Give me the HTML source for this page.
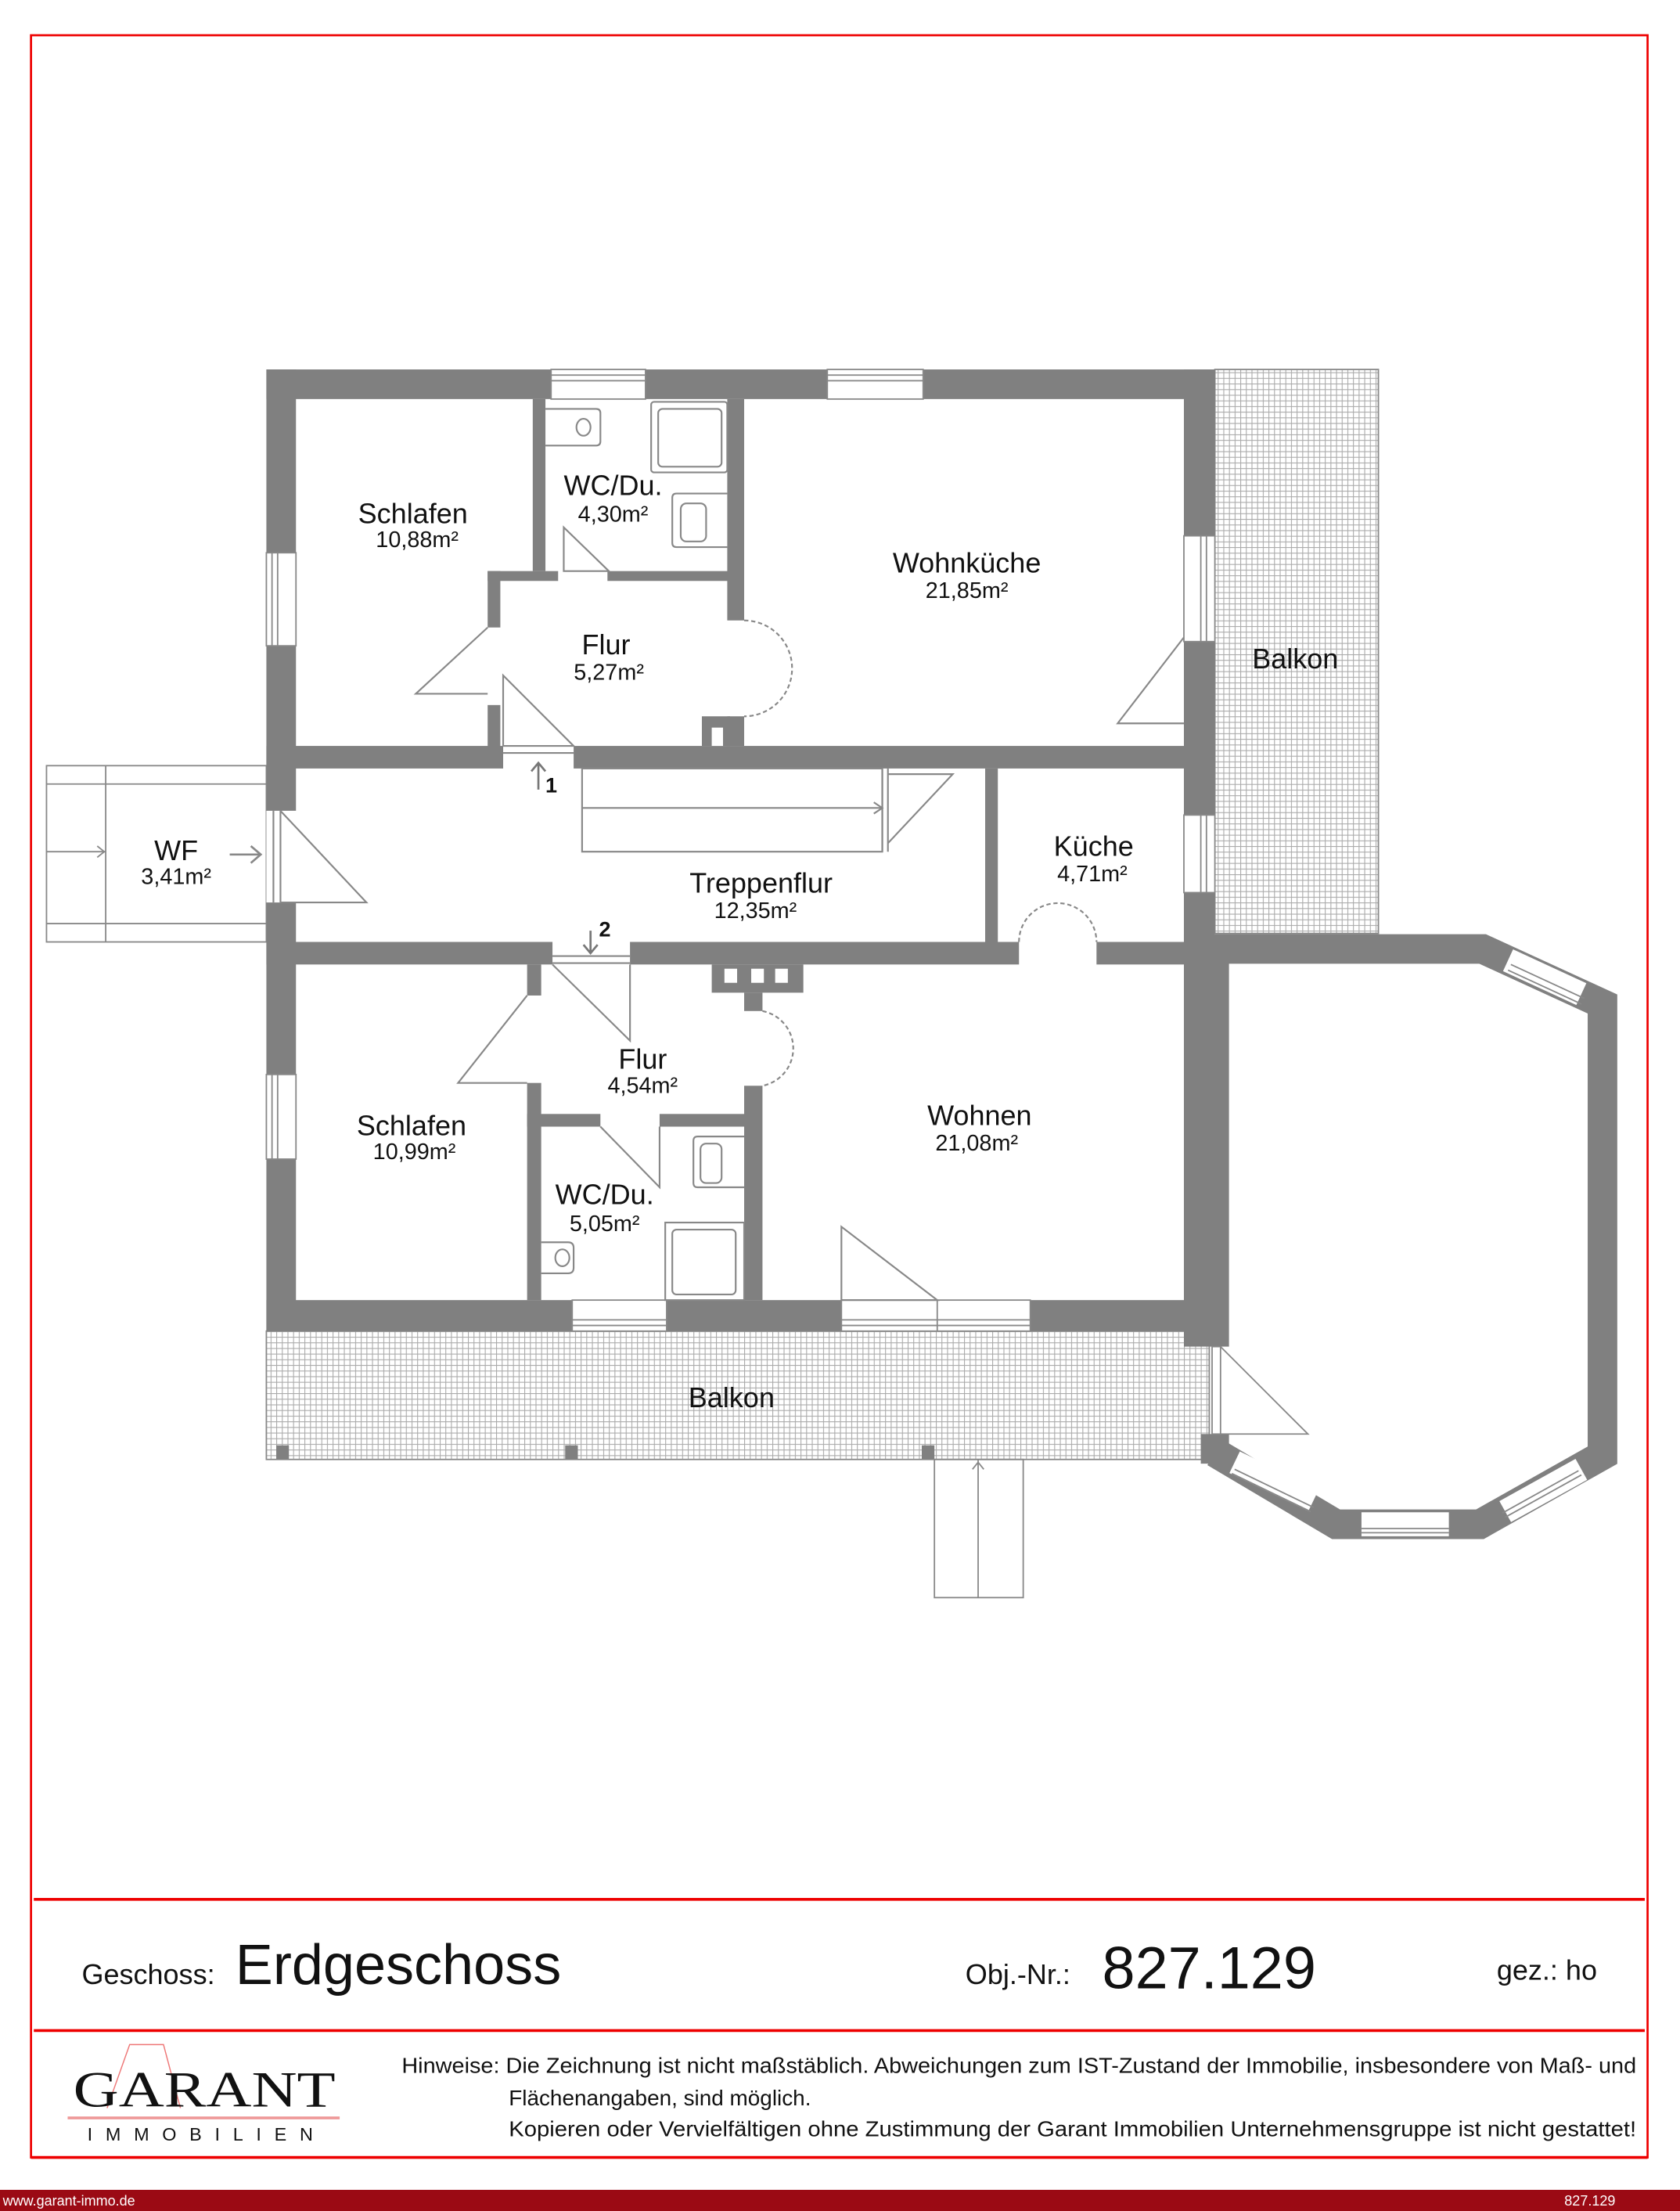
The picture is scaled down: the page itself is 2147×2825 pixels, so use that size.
<!DOCTYPE html>
<html><head><meta charset="utf-8"><style>
html,body{margin:0;padding:0;background:#fff}
svg{display:block}
text{font-family:"Liberation Sans",sans-serif;fill:#111}
</style></head><body>
<svg width="2147" height="2825" viewBox="0 0 1192 1568" preserveAspectRatio="none" xmlns="http://www.w3.org/2000/svg">
<defs>
<pattern id="g" width="4" height="4" patternUnits="userSpaceOnUse">
<rect width="4" height="4" fill="#fff"/>
<path d="M0 0.3H4M0.3 0V4" stroke="#aaa" stroke-width="0.6"/>
</pattern>
</defs>
<rect x="0" y="0" width="1192" height="1568" fill="#fff"/>
<!-- frame -->
<rect x="22" y="25" width="1147" height="1505" fill="none" stroke="#e00" stroke-width="1.5"/>
<line x1="24" y1="1347" x2="1167" y2="1347" stroke="#e00" stroke-width="2"/>
<line x1="24" y1="1440" x2="1167" y2="1440" stroke="#e00" stroke-width="2"/>
<line x1="22" y1="1530" x2="1169" y2="1530" stroke="#e00" stroke-width="2"/>

<!-- balconies -->
<rect x="862" y="262" width="116" height="400" fill="url(#g)" stroke="#888" stroke-width="1"/>
<rect x="189" y="944" width="669" height="91" fill="url(#g)" stroke="#888" stroke-width="1"/>
<rect x="196" y="1025" width="9" height="10" fill="#808080"/>
<rect x="401" y="1025" width="9" height="10" fill="#808080"/>
<rect x="654" y="1025" width="9" height="10" fill="#808080"/>

<!-- WF -->
<g fill="none" stroke="#888" stroke-width="1">
<rect x="33" y="543" width="156" height="125"/>
<line x1="33" y1="556" x2="189" y2="556"/>
<line x1="33" y1="655" x2="189" y2="655"/>
<line x1="75" y1="543" x2="75" y2="668"/>
<line x1="33" y1="604" x2="75" y2="604"/>
<path d="M69 600l5 4-5 4"/>
<line x1="163" y1="606" x2="185" y2="606" stroke-width="1.5"/>
<path d="M178 600l7 6-7 6" stroke-width="1.5"/>
</g>

<!-- steps -->
<g fill="none" stroke="#888" stroke-width="1">
<rect x="663" y="1035" width="63" height="98"/>
<line x1="694" y1="1035" x2="694" y2="1133"/>
<path d="M690 1042l4-5 4 5"/>
</g>

<g fill="#808080">
<!-- outer top -->
<rect x="189" y="262" width="673" height="21"/>
<!-- left wall -->
<rect x="189" y="262" width="21" height="313"/>
<rect x="189" y="640" width="21" height="304"/>
<!-- right wall -->
<rect x="840" y="262" width="22" height="406"/>
<!-- bottom wall -->
<rect x="189" y="922" width="662" height="22"/>
<!-- middle horizontal walls -->
<rect x="189" y="529" width="168" height="16"/>
<rect x="407" y="529" width="455" height="16"/>
<rect x="189" y="668" width="203" height="16"/>
<rect x="447" y="668" width="276" height="16"/>
<rect x="778" y="668" width="84" height="16"/>
<!-- upper internal -->
<rect x="378" y="283" width="9" height="122"/>
<rect x="346" y="405" width="50" height="7"/>
<rect x="431" y="405" width="87" height="7"/>
<rect x="346" y="405" width="9" height="40"/>
<rect x="346" y="500" width="9" height="30"/>
<rect x="516" y="283" width="12" height="157"/>
<rect x="516" y="508" width="12" height="21"/>
<rect x="498" y="508" width="20" height="21"/>
<!-- Treppenflur right wall -->
<rect x="699" y="545" width="9" height="125"/>
<!-- lower internal -->
<rect x="374" y="684" width="10" height="22"/>
<rect x="374" y="768" width="10" height="154"/>
<rect x="374" y="790" width="52" height="9"/>
<rect x="468" y="790" width="61" height="9"/>
<rect x="528" y="704" width="13" height="13"/>
<rect x="528" y="770" width="13" height="152"/>
<rect x="505" y="684" width="65" height="20"/>
<!-- bay left wall -->
<rect x="840" y="663" width="32" height="292"/>
<rect x="852" y="1017" width="20" height="21"/>
</g>
<!-- chimney holes -->
<g fill="#fff">
<rect x="514" y="687" width="9" height="10"/>
<rect x="533" y="687" width="9" height="10"/>
<rect x="550" y="687" width="9" height="10"/>
<rect x="505" y="510" width="0" height="0"/>
<rect x="505" y="516" width="8" height="13"/>
</g>
<!-- bay -->
<polyline points="862,673 1052,673 1137,712 1137,1032 1050,1081 948,1081 862,1030" fill="none" stroke="#808080" stroke-width="21" stroke-linejoin="miter"/>
<g stroke="#fff" stroke-width="17">
<line x1="1070" y1="681" x2="1122" y2="705"/>
<line x1="1068" y1="1072" x2="1122" y2="1042"/>
<line x1="966" y1="1081" x2="1028" y2="1081"/>
<line x1="876" y1="1037" x2="932" y2="1064"/>
</g>
<g stroke="#888" stroke-width="1" fill="none">
<line x1="1070" y1="688" x2="1122" y2="712"/><line x1="1072" y1="684" x2="1124" y2="708"/>
<line x1="1068" y1="1076" x2="1122" y2="1046"/><line x1="1066" y1="1073" x2="1120" y2="1043"/>
<line x1="966" y1="1084" x2="1028" y2="1084"/><line x1="966" y1="1087" x2="1028" y2="1087"/>
<line x1="876" y1="1042" x2="932" y2="1069"/><line x1="874" y1="1045" x2="930" y2="1072"/>
<rect x="860" y="955" width="6" height="62"/>
<path d="M866 955L928 1017H866"/>
</g>

<!-- windows -->
<g fill="#fff" stroke="#888" stroke-width="1">
<rect x="391" y="262" width="67" height="21"/><line x1="391" y1="266" x2="458" y2="266"/><line x1="391" y1="270" x2="458" y2="270"/>
<rect x="587" y="262" width="68" height="21"/><line x1="587" y1="266" x2="655" y2="266"/><line x1="587" y1="270" x2="655" y2="270"/>
<rect x="189" y="392" width="21" height="66"/><line x1="193" y1="392" x2="193" y2="458"/><line x1="197" y1="392" x2="197" y2="458"/>
<rect x="189" y="762" width="21" height="60"/><line x1="193" y1="762" x2="193" y2="822"/><line x1="197" y1="762" x2="197" y2="822"/>
<rect x="840" y="380" width="22" height="75"/><line x1="852" y1="380" x2="852" y2="455"/><line x1="856" y1="380" x2="856" y2="455"/>
<rect x="840" y="578" width="22" height="55"/><line x1="852" y1="578" x2="852" y2="633"/><line x1="856" y1="578" x2="856" y2="633"/>
<rect x="406" y="922" width="67" height="22"/><line x1="406" y1="936" x2="473" y2="936"/><line x1="406" y1="940" x2="473" y2="940"/>
<rect x="597" y="922" width="134" height="22"/><line x1="597" y1="936" x2="731" y2="936"/><line x1="597" y1="940" x2="731" y2="940"/><line x1="665" y1="922" x2="665" y2="944"/>
<rect x="189" y="575" width="21" height="65" stroke="none"/>
</g>

<!-- doors, fixtures -->
<g fill="none" stroke="#888" stroke-width="1.2">
<path d="M346 445L295 492H346"/>
<path d="M357 479V529H407Z"/><line x1="357" y1="534" x2="407" y2="534"/>
<path d="M400 374V405H432Z"/>
<path d="M528 440A33 33 0 0 1 528 508" stroke-dasharray="3 2"/>
<path d="M840 452L793 513H840"/>
<path d="M194 575V640M199 575V640"/><path d="M199 575L260 640H199"/>
<rect x="413" y="545" width="213" height="59"/><line x1="413" y1="573" x2="626" y2="573"/><path d="M620 569l6 4-6 4"/>
<line x1="626" y1="545" x2="626" y2="604"/><line x1="630" y1="545" x2="630" y2="604"/><path d="M630 549H676L630 598"/>
<path d="M723 668A27 27 0 0 1 778 668" stroke-dasharray="3 2"/>
<line x1="392" y1="678" x2="447" y2="678"/><line x1="392" y1="683" x2="447" y2="683"/>
<path d="M392 684L447 738V684"/>
<path d="M374 706L325 768H374"/>
<path d="M541 717A27 27 0 0 1 541 770" stroke-dasharray="3 2"/>
<path d="M426 799L468 842V799"/>
<path d="M597 870V922L665 922Z"/>
<!-- upper WC fixtures -->
<path d="M387 290H423Q426 290 426 293V313Q426 316 423 316H387"/><ellipse cx="414" cy="303" rx="5" ry="6"/>
<rect x="462" y="285" width="54" height="50" rx="2"/><rect x="467" y="290" width="45" height="41" rx="3"/>
<path d="M516 350H480Q477 350 477 353V385Q477 388 480 388H516"/><rect x="483" y="357" width="18" height="27" rx="4"/>
<!-- lower WC fixtures -->
<path d="M384 881H403Q407 881 407 885V899Q407 903 403 903H384"/><ellipse cx="409" cy="892" rx="0" ry="0"/><ellipse cx="399" cy="892" rx="5" ry="6"/>
<path d="M528 806H495Q492 806 492 809V839Q492 842 495 842H528"/><rect x="497" y="811" width="15" height="28" rx="4"/>
<rect x="472" y="867" width="56" height="55"/><rect x="477" y="872" width="45" height="46" rx="3"/>
</g>
<!-- arrows 1/2 -->
<g stroke="#777" stroke-width="1.5" fill="none">
<path d="M382 560V542M377 547l5-6 5 6"/>
<path d="M419 660V675M414 670l5 6 5-6"/>
</g>
<text x="387" y="562" font-size="15" font-weight="bold">1</text>
<text x="425" y="664" font-size="15" font-weight="bold">2</text>

<!-- labels -->
<g text-anchor="middle">
<text x="293" y="371" font-size="20">Schlafen</text><text x="296" y="388" font-size="16">10,88m²</text>
<text x="435" y="351" font-size="20">WC/Du.</text><text x="435" y="370" font-size="16">4,30m²</text>
<text x="430" y="464" font-size="20">Flur</text><text x="432" y="482" font-size="16">5,27m²</text>
<text x="686" y="406" font-size="20">Wohnküche</text><text x="686" y="424" font-size="16">21,85m²</text>
<text x="919" y="474" font-size="20">Balkon</text>
<text x="125" y="610" font-size="20">WF</text><text x="125" y="627" font-size="16">3,41m²</text>
<text x="540" y="633" font-size="20">Treppenflur</text><text x="536" y="651" font-size="16">12,35m²</text>
<text x="776" y="607" font-size="20">Küche</text><text x="775" y="625" font-size="16">4,71m²</text>
<text x="456" y="758" font-size="20">Flur</text><text x="456" y="775" font-size="16">4,54m²</text>
<text x="292" y="805" font-size="20">Schlafen</text><text x="294" y="822" font-size="16">10,99m²</text>
<text x="695" y="798" font-size="20">Wohnen</text><text x="693" y="816" font-size="16">21,08m²</text>
<text x="429" y="854" font-size="20">WC/Du.</text><text x="429" y="873" font-size="16">5,05m²</text>
<text x="519" y="998" font-size="20">Balkon</text>
</g>

<!-- footer -->
<text x="58" y="1407" font-size="20">Geschoss:</text>
<text x="167" y="1407" font-size="40">Erdgeschoss</text>
<text x="685" y="1407" font-size="20">Obj.-Nr.:</text>
<text x="782" y="1410" font-size="42">827.129</text>
<text x="1062" y="1404" font-size="20">gez.: ho</text>

<text x="285" y="1470" font-size="15.5" textLength="876" lengthAdjust="spacingAndGlyphs">Hinweise: Die Zeichnung ist nicht maßstäblich. Abweichungen zum IST-Zustand der Immobilie, insbesondere von Maß- und</text>
<text x="361" y="1493" font-size="15.5">Flächenangaben, sind möglich.</text>
<text x="361" y="1515" font-size="15.5" textLength="800" lengthAdjust="spacingAndGlyphs">Kopieren oder Vervielfältigen ohne Zustimmung der Garant Immobilien Unternehmensgruppe ist nicht gestattet!</text>

<!-- logo -->
<path d="M76 1495L92 1450H116L128 1495" fill="none" stroke="#e77" stroke-width="0.8"/>
<text x="52" y="1494" font-size="36" font-family="Liberation Serif" style="font-family:'Liberation Serif',serif" textLength="186" lengthAdjust="spacingAndGlyphs">GARANT</text>
<line x1="48" y1="1502" x2="241" y2="1502" stroke="#e99" stroke-width="2"/>
<text x="62" y="1518" font-size="13" textLength="160" lengthAdjust="spacing">IMMOBILIEN</text>

<!-- bottom bar -->
<rect x="0" y="1553" width="1192" height="15" fill="#9b0a14"/>
<text x="2" y="1564" font-size="10" style="fill:#fff">www.garant-immo.de</text>
<text x="1110" y="1564" font-size="10" style="fill:#fff">827.129</text>
</svg>
</body></html>
